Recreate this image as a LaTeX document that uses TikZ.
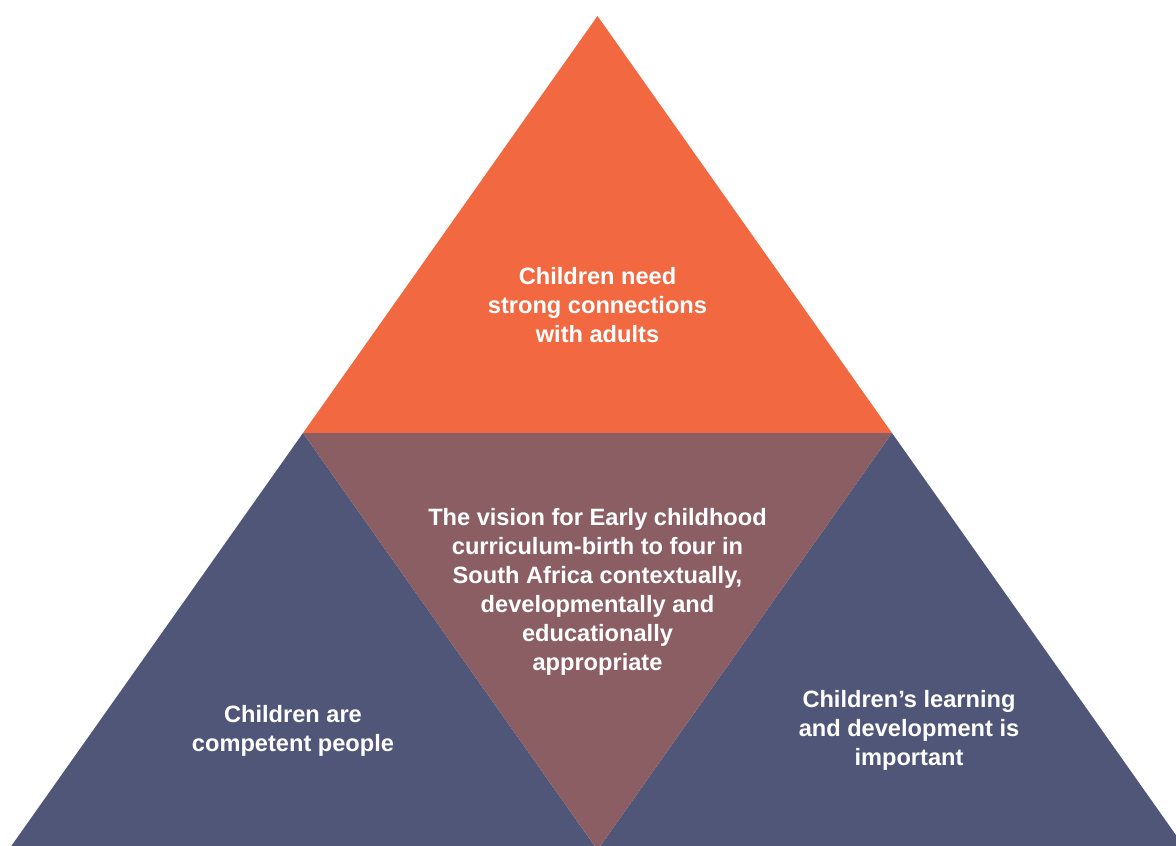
\documentclass[tikz,border=0pt]{standalone}
\usepackage{fontspec}
\setmainfont{Liberation Sans}
\definecolor{topor}{RGB}{242,104,65}
\definecolor{midmv}{RGB}{139,94,100}
\definecolor{sidenv}{RGB}{79,86,120}
\tikzset{
  lbl/.style={text=white, align=center, font=\bfseries\fontsize{23.7}{29.2}\selectfont, inner sep=0pt},
  part/.style={draw=none}
}
\begin{document}
\begin{tikzpicture}[x=1bp,y=-1bp]
\useasboundingbox (0,0) rectangle (1176,846);
\clip (0,0) rectangle (1176,846);
\coordinate (A) at (597.5,16);
\coordinate (L) at (303,433);
\coordinate (R) at (892,433);
\coordinate (BL) at (8.5,850);
\coordinate (BM) at (597.5,850);
\coordinate (BR) at (1186.5,850);
\fill[part, topor] (A) -- (L) -- (R) -- cycle;
\fill[part, sidenv] (L) -- (BL) -- (BM) -- cycle;
\fill[part, sidenv] (R) -- (BM) -- (BR) -- cycle;
\fill[part, midmv] (L) -- (R) -- (BM) -- cycle;
\node[lbl] (top) at (597.5,305) {Children need\\strong connections\\with adults};
\node[lbl] (mid) at (597.5,592) {The vision for Early childhood\\curriculum-birth to four in\\South Africa contextually,\\developmentally and\\educationally\\appropriate};
\node[lbl] (left) at (293,731) {Children are\\competent people};
\node[lbl] (right) at (909,730) {Children’s learning\\and development is\\important};
\end{tikzpicture}
\end{document}
